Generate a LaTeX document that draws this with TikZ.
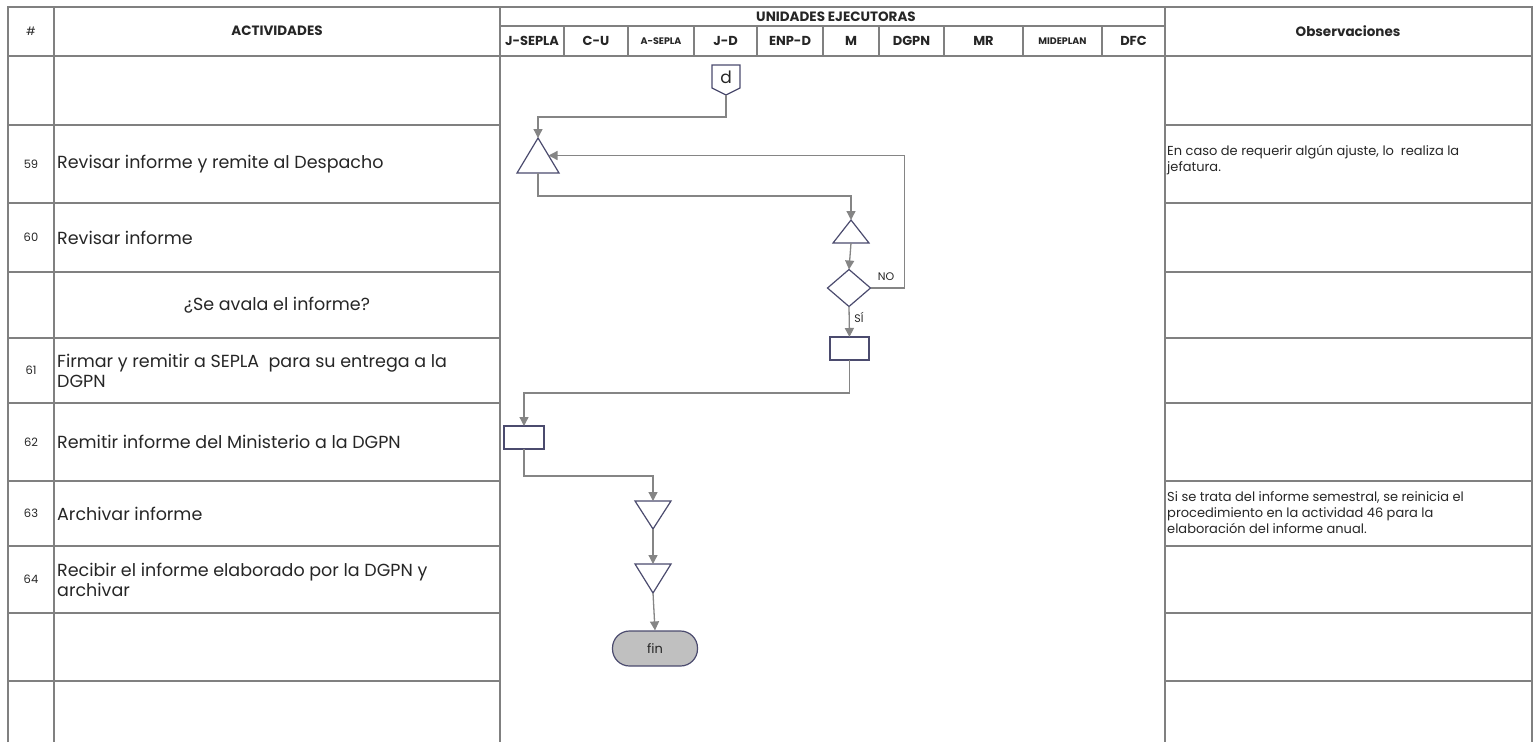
\documentclass[tikz,border=0pt]{standalone}
\usepackage{fontspec}
\setmainfont{Poppins}
\usetikzlibrary{arrows.meta,calc}
\definecolor{gridcol}{HTML}{808080}
\definecolor{conncol}{HTML}{858585}
\definecolor{shpcol}{HTML}{4B4B6E}
\definecolor{txtcol}{HTML}{262626}
\definecolor{finfill}{HTML}{C0C0C0}
\begin{document}
\begin{tikzpicture}[x=1pt,y=-1pt,
  gridline/.style={draw=gridcol,line width=2pt},
  conn/.style={draw=conncol,line width=1.3pt,-{Triangle[length=9pt,width=9pt]}},
  box/.style={inner sep=0pt,outer sep=0pt},
  shp/.style={draw=shpcol,line width=1.2pt,fill=white},
  acttxt/.style={anchor=west,text=txtcol,font=\fontsize{17.5}{20}\selectfont,align=left,inner sep=0pt},
  numtxt/.style={text=txtcol,font=\fontsize{11.5}{13}\selectfont,inner sep=0pt},
  hdrtxt/.style={text=txtcol,font=\bfseries\fontsize{13.5}{15}\selectfont,inner sep=0pt},
  subtxt/.style={text=txtcol,font=\bfseries\fontsize{13}{15}\selectfont,inner sep=0pt},
  subsmall/.style={text=txtcol,font=\bfseries\fontsize{9.5}{11}\selectfont,inner sep=0pt},
  obstxt/.style={anchor=west,text=txtcol,font=\fontsize{13}{16}\selectfont,align=left,inner sep=0pt},
  lbl/.style={text=txtcol,font=\fontsize{11}{12}\selectfont,inner sep=0pt}]
\useasboundingbox (0,0) rectangle (1538,742);

% ---------- table ----------
\draw[gridline] (8,742) -- (8,7) -- (1532,7) -- (1532,742);
\draw[gridline] (54,7) -- (54,742);
\draw[gridline] (500,7) -- (500,742);
\draw[gridline] (1165,7) -- (1165,742);
\draw[gridline] (8,56) -- (1532,56);
\draw[gridline] (500,26) -- (1165,26);
\foreach \cx in {564,628,694,757,823,879,944,1023,1102}
  \draw[gridline] (\cx,26) -- (\cx,56);
\foreach \ry in {125,203,272,338,403,481,546,613,681} {
  \draw[gridline] (8,\ry) -- (500,\ry);
  \draw[gridline] (1165,\ry) -- (1532,\ry);
}

% ---------- headers ----------
\node[numtxt] (hnum) at (31,31) {\#};
\node[hdrtxt] (hact) at (277,31) {ACTIVIDADES};
\node[hdrtxt] (huni) at (836,17) {UNIDADES EJECUTORAS};
\node[hdrtxt] (hobs) at (1348,31) {Observaciones};
\node[subtxt] (c1) at (532,41) {J-SEPLA};
\node[subtxt] (c2) at (596,41) {C-U};
\node[subsmall] (c3) at (661,41) {A-SEPLA};
\node[subtxt] (c4) at (725.5,41) {J-D};
\node[subtxt] (c5) at (790,41) {ENP-D};
\node[subtxt] (c6) at (851,41) {M};
\node[subtxt] (c7) at (911.5,41) {DGPN};
\node[subtxt] (c8) at (983.5,41) {MR};
\node[subsmall] (c9) at (1062.5,41) {MIDEPLAN};
\node[subtxt] (c10) at (1133.5,41) {DFC};

% ---------- rows ----------
\node[numtxt] (n59) at (31,164) {59};
\node[acttxt] (a59) at (57,164) {Revisar informe y remite al Despacho};
\node[numtxt] (n60) at (31,237.5) {60};
\node[acttxt] (a60) at (57,237.5) {Revisar informe};
\node[text=txtcol,font=\fontsize{17.5}{20}\selectfont,inner sep=0pt] (aq) at (277,305) {¿Se avala el informe?};
\node[numtxt] (n61) at (31,370.5) {61};
\node[acttxt] (a61) at (57,370.5) {Firmar y remitir a SEPLA\ \ para su entrega a la\\DGPN};
\node[numtxt] (n62) at (31,442) {62};
\node[acttxt] (a62) at (57,442) {Remitir informe del Ministerio a la DGPN};
\node[numtxt] (n63) at (31,513.5) {63};
\node[acttxt] (a63) at (57,513.5) {Archivar informe};
\node[numtxt] (n64) at (31,579.5) {64};
\node[acttxt] (a64) at (57,579.5) {Recibir el informe elaborado por la DGPN y\\archivar};

\node[obstxt] (o59) at (1167,160) {En caso de requerir algún ajuste, lo\ \ realiza la\\jefatura.};
\node[obstxt] (o63) at (1167,513) {Si se trata del informe semestral, se reinicia el\\procedimiento en la actividad 46 para la\\elaboración del informe anual.};

% ---------- flow shapes ----------
\node[box,minimum width=28pt,minimum height=30pt] (d) at (726,80) {};
\draw[shp] (d.north west) -- (d.north east) -- ([yshift=7pt]d.south east) -- (d.south) -- ([yshift=7pt]d.south west) -- cycle;
\node[text=txtcol,font=\fontsize{17}{18}\selectfont,inner sep=0pt] (dl) at (726,77) {d};

\node[box,minimum width=42pt,minimum height=35pt] (t1) at (538,155.5) {};
\draw[shp] (t1.south west) -- (t1.south east) -- (t1.north) -- cycle;
\coordinate (t1r) at ($(t1.north)!0.5!(t1.south east)$);

\node[box,minimum width=36pt,minimum height=23pt] (t2) at (851,231.5) {};
\draw[shp] (t2.south west) -- (t2.south east) -- (t2.north) -- cycle;

\node[box,minimum width=43pt,minimum height=37pt] (dia) at (849,288) {};
\draw[shp] (dia.north) -- (dia.east) -- (dia.south) -- (dia.west) -- cycle;

\node[box,minimum width=39pt,minimum height=23pt] (r1) at (849.5,348.5) {};
\draw[shp] (r1.south west) rectangle (r1.north east);

\node[box,minimum width=40pt,minimum height=23pt] (r2) at (524,437.5) {};
\draw[shp] (r2.south west) rectangle (r2.north east);

\node[box,minimum width=36pt,minimum height=28pt] (t3) at (653,515) {};
\draw[shp] (t3.north west) -- (t3.north east) -- (t3.south) -- cycle;

\node[box,minimum width=36pt,minimum height=29pt] (t4) at (653,578.5) {};
\draw[shp] (t4.north west) -- (t4.north east) -- (t4.south) -- cycle;

\node[draw=shpcol,line width=1.2pt,fill=finfill,rounded corners=17pt,minimum width=85pt,minimum height=35pt,inner sep=0pt,text=txtcol,font=\fontsize{13}{14}\selectfont] (fin) at (655,648.5) {fin};

% ---------- connectors ----------
\draw[conn] (d.south) -- ++(0,22) -| (t1.north);
\draw[conn] (t1.south) -- ++(0,23) -| (t2.north);
\draw[conn] (t2.south) -- (dia.north);
\draw[conn] (dia.east) -- ++(34,0) |- (t1r);
\draw[conn] (dia.south) -- (r1.north);
\draw[conn] (r1.south) -- ++(0,33) -| (r2.north);
\draw[conn] (r2.south) -- ++(0,27) -| (t3.north);
\draw[conn] (t3.south) -- (t4.north);
\draw[conn] (t4.south) -- (fin.north);

\node[lbl] (no) at (886,277) {NO};
\node[lbl] (si) at (859,317) {SÍ};
\end{tikzpicture}
\end{document}
